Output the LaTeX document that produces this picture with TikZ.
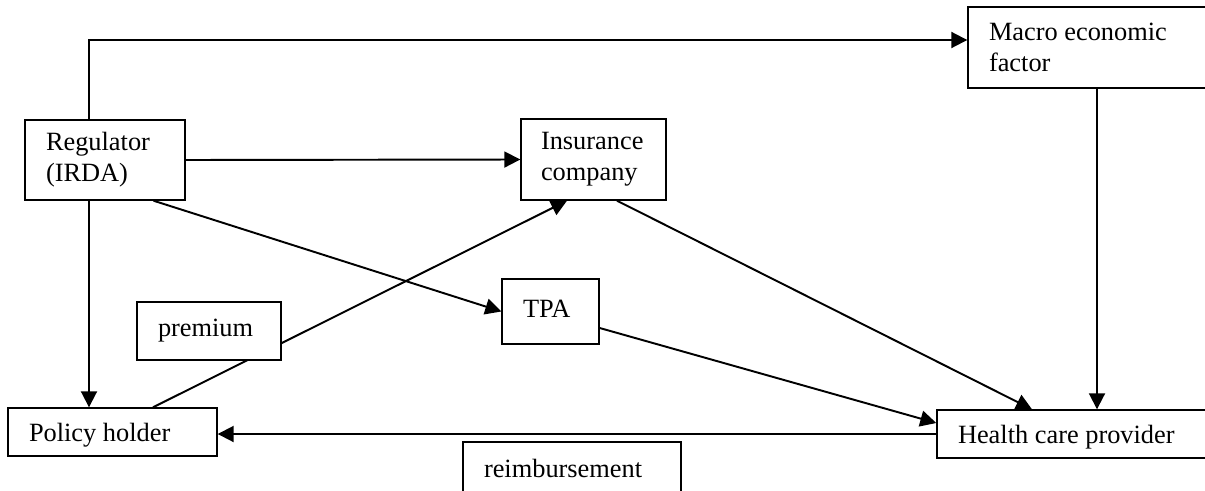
\documentclass[tikz,border=0pt]{standalone}
\usepackage{fontspec}
\setmainfont{Liberation Serif}
\usetikzlibrary{arrows.meta}
\tikzset{
  box/.style={draw, line width=0.8pt, fill=white, align=flush left, inner xsep=0.42cm, inner ysep=0pt,
    font=\fontsize{15}{17.5}\selectfont},
  conn/.style={line width=1.1pt, -{Triangle[length=0.32cm,width=0.32cm]}}
}
\begin{document}
\begin{tikzpicture}
            \useasboundingbox (0,0) rectangle (24.1,9.8);
            \node[box, text width=2.36cm, minimum height=1.6cm] (reg) at (2.1,6.6) {Regulator\\(IRDA)};
            \node[box, text width=2.1cm, inner xsep=0.4cm, minimum height=1.62cm] (ins) at (11.87,6.61) {Insurance\\company};
            \node[box, text width=4.16cm, minimum height=1.62cm] (macro) at (21.86,8.85) {Macro economic\\factor};
            \node[box, text width=1.1cm, minimum height=1.3cm] (tpa) at (11.01,3.57) {TPA\vphantom{y}};
            \node[box, text width=3.34cm, text depth=0pt, minimum height=0.96cm] (ph) at (2.25,1.16) {Policy holder};
            \node[box, text width=4.66cm, text depth=0pt, minimum height=0.96cm] (hcp) at (21.49,1.12) {Health care provider};
            \coordinate (c1) at (1.78,9.0);
            \coordinate (c2) at (21.94,0);
            \draw[conn] (reg.north -| c1) -- (c1) -- (c1 -| macro.west);
            \draw[conn] (reg.east) -- (ins.west);
            \draw[conn] (reg.south -| c1) -- (ph.north -| c1);
            \draw[conn] (reg.-40) -- (tpa.west);
            \draw[conn] ([xshift=0.81cm]ph.north) -- ([xshift=-0.53cm]ins.south);
            \draw[conn] ([xshift=0.47cm]ins.south) -- ([xshift=-0.85cm]hcp.north);
            \draw[conn] ([yshift=-0.33cm]tpa.east) -- ([yshift=0.22cm]hcp.west);
            \draw[conn] (macro.south -| c2) -- (hcp.north -| c2);
            \draw[conn] (hcp.west) -- (hcp.west -| ph.east);
            \node[box, text width=2.04cm, minimum height=1.16cm] (prem) at (4.18,3.18) {premium};
            \node[box, text width=3.52cm, minimum height=1.06cm] (reimb) at (11.44,0.43) {reimbursement};
        \end{tikzpicture}
\end{document}
